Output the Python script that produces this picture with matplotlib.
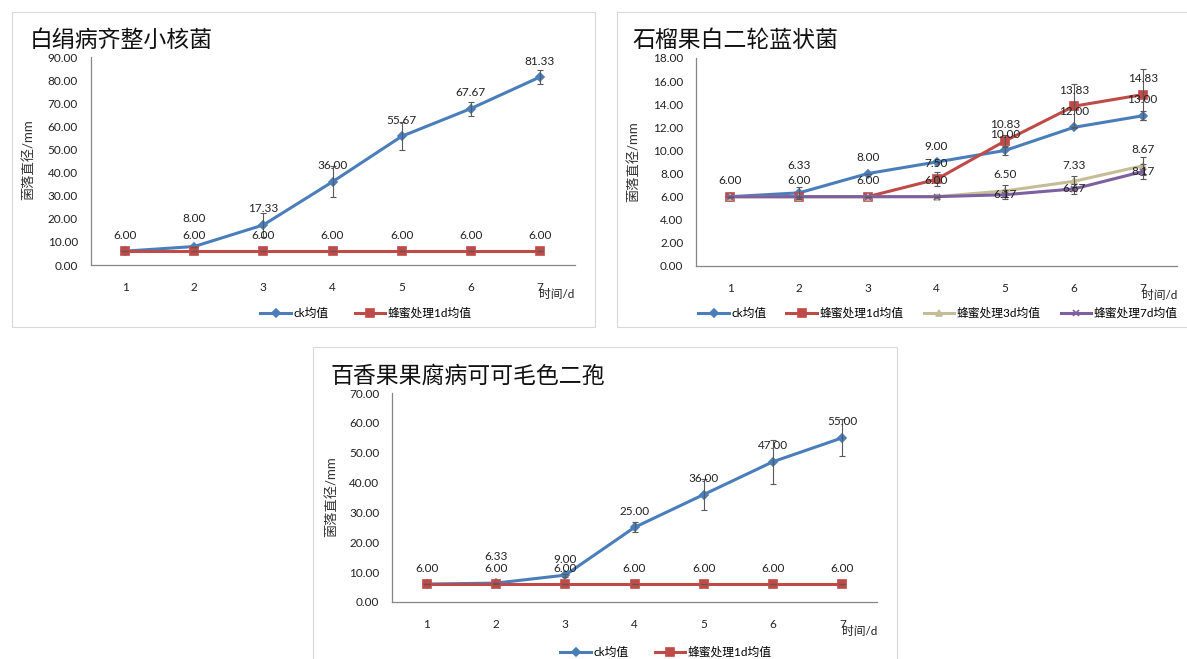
import matplotlib
matplotlib.use("Agg")
import matplotlib.pyplot as plt
from matplotlib.patches import Rectangle

plt.rcParams['font.family'] = ['Lato', 'Noto Sans CJK SC', 'DejaVu Sans']

days = [1, 2, 3, 4, 5, 6, 7]
names = ["ck均值", "蜂蜜处理1d均值", "蜂蜜处理3d均值", "蜂蜜处理7d均值"]

# 白绢病齐整小核菌
ck_1 = [6.00, 8.00, 17.33, 36.00, 55.67, 67.67, 81.33]
ck_1_err = [0, 0, 5.0, 6.7, 6.0, 3.0, 3.2]
honey1d_1 = [6.00, 6.00, 6.00, 6.00, 6.00, 6.00, 6.00]
honey1d_1_err = [0, 0, 0, 0, 0, 0, 0]

# 石榴果白二轮蓝状菌
ck_2 = [6.00, 6.33, 8.00, 9.00, 10.00, 12.00, 13.00]
ck_2_err = [0, 0.5, 0, 0, 0.4, 0, 0.4]
honey1d_2 = [6.00, 6.00, 6.00, 7.50, 10.83, 13.83, 14.83]
honey1d_2_err = [0, 0, 0, 0.6, 0.5, 1.9, 2.2]
honey3d_2 = [6.00, 6.00, 6.00, 6.00, 6.50, 7.33, 8.67]
honey3d_2_err = [0, 0, 0, 0, 0.55, 0.5, 0.8]
honey7d_2 = [6.00, 6.00, 6.00, 6.00, 6.17, 6.67, 8.17]
honey7d_2_err = [0, 0, 0, 0, 0.4, 0.45, 0.65]

# 百香果果腐病可可毛色二孢
ck_3 = [6.00, 6.33, 9.00, 25.00, 36.00, 47.00, 55.00]
ck_3_err = [0, 0, 0.5, 1.7, 5.1, 7.4, 6.2]
honey1d_3 = [6.00, 6.00, 6.00, 6.00, 6.00, 6.00, 6.00]
honey1d_3_err = [0, 0, 0, 0, 0, 0, 0]

BLUE = "#4A7EBB"
RED = "#BE4B48"
TAN = "#C4BD97"
PURPLE = "#7D60A0"
W, H = 1187, 659


def fx(px):
    return px / W


def fy(py):
    return 1 - py / H


def draw_panel(fig, box, axbox, title, title_xy, ylabel_xy, legend_xy, ymax, ystep, series,
               colspace=2.2):
    # chart frame
    x0, y0, x1, y1 = box
    fig.patches.append(Rectangle((fx(x0), fy(y1)), fx(x1 - x0), (y1 - y0) / H,
                                 transform=fig.transFigure, fill=False,
                                 edgecolor="#D9D9D9", lw=0.8))
    l, t, r, b = axbox
    ax = fig.add_axes([fx(l), fy(b), fx(r - l), (b - t) / H])
    for s in series:
        ax.plot(days, s["y"], color=s["color"], lw=2.2, marker=s["marker"],
                ms=s["ms"], mew=1.2, label=s["name"], zorder=3)
        ax.errorbar(days, s["y"], yerr=s["err"], fmt="none", ecolor="#595959",
                    elinewidth=0.8, capsize=2.5, capthick=0.8, zorder=4)
    drawn = set()
    for s in series:
        for i, (d, v) in enumerate(zip(days, s["y"])):
            if i < s.get("label_from", 0):
                continue
            dy = s.get("dy", 11.5) + s.get("bump", {}).get(i, 0)
            key = (d, f"{v:.2f}", dy)
            if key in drawn:
                continue
            drawn.add(key)
            ax.annotate(f"{v:.2f}", (d, v), xytext=(0, dy), textcoords="offset points",
                        ha="center", va="center", fontsize=8.5, color="#222222", zorder=5)
    ax.set_xlim(0.5, 7.5)
    ax.set_ylim(0, ymax)
    ax.set_xticks(days)
    ax.set_yticks([ystep * k for k in range(int(round(ymax / ystep)) + 1)])
    ax.yaxis.set_major_formatter(lambda v, p: f"{v:.2f}")
    ax.tick_params(length=0, labelsize=8.5, colors="#222222")
    ax.tick_params(axis="y", pad=9)
    ax.tick_params(axis="x", pad=12)
    for side in ("top", "right"):
        ax.spines[side].set_visible(False)
    for side in ("left", "bottom"):
        ax.spines[side].set_color("#868686")
        ax.spines[side].set_linewidth(0.9)
    ax.patch.set_alpha(0)
    ax.text(1.0, -0.14, "时间/d", transform=ax.transAxes, ha="right", va="center",
            fontsize=8.5, color="#222222")
    fig.text(fx(title_xy[0]), fy(title_xy[1]), title, ha="left", va="center",
             fontsize=16.5, fontweight="light", color="#111111")
    fig.text(fx(ylabel_xy[0]), fy(ylabel_xy[1]), "菌落直径/mm", rotation=90,
             ha="center", va="center", fontsize=9.5, color="#333333")
    ax.legend(loc="center", bbox_to_anchor=(fx(legend_xy[0]), fy(legend_xy[1])),
              bbox_transform=fig.transFigure, ncol=len(series), frameon=False,
              fontsize=8.5, handlelength=2.6, columnspacing=colspace, handletextpad=0.2)
    return ax


fig = plt.figure(figsize=(11.87, 6.59), dpi=100)

draw_panel(fig, (12, 12, 595, 327), (90.5, 57, 574.5, 265), "白绢病齐整小核菌",
           (30, 40), (28, 160), (366, 313), 90, 10,
           [dict(name=names[0], y=ck_1, err=ck_1_err, color=BLUE, marker="D", ms=4,
                 bump={1: 8.5}),
            dict(name=names[1], y=honey1d_1, err=honey1d_1_err, color=RED, marker="s", ms=5.5)])

draw_panel(fig, (617, 12, 1190, 327), (696, 58, 1177, 266), "石榴果白二轮蓝状菌",
           (632, 40), (633, 162), (938, 313), 18, 2,
           [dict(name=names[0], y=ck_2, err=ck_2_err, color=BLUE, marker="D", ms=4,
                 bump={1: 8}),
            dict(name=names[1], y=honey1d_2, err=honey1d_2_err, color=RED, marker="s", ms=5.5),
            dict(name=names[2], y=honey3d_2, err=honey3d_2_err, color=TAN, marker="^", ms=5,
                 label_from=3),
            dict(name=names[3], y=honey7d_2, err=honey7d_2_err, color=PURPLE, marker="x", ms=5,
                 label_from=4, dy=0)],
           colspace=1.7)

draw_panel(fig, (313, 347, 897, 665), (392, 393, 877, 602), "百香果果腐病可可毛色二孢",
           (331, 376), (331, 497), (666, 652), 70, 10,
           [dict(name=names[0], y=ck_3, err=ck_3_err, color=BLUE, marker="D", ms=4,
                 bump={1: 8}),
            dict(name=names[1], y=honey1d_3, err=honey1d_3_err, color=RED, marker="s", ms=5.5)])

fig.savefig("out.png", dpi=100)
